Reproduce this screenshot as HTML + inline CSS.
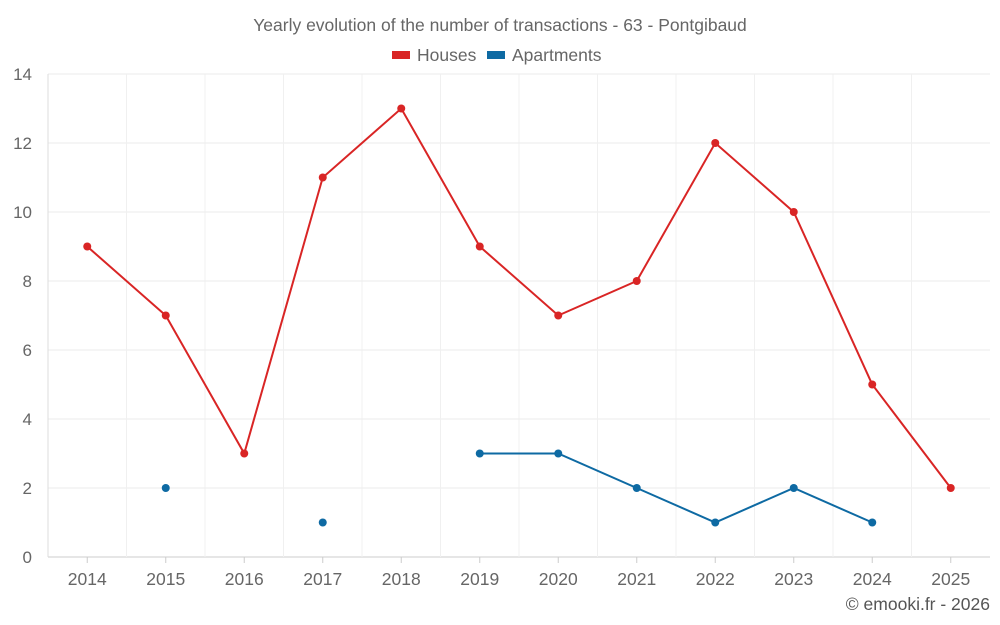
<!DOCTYPE html>
<html><head><meta charset="utf-8">
<style>
html,body{margin:0;padding:0;background:#fff;}
svg{display:block;font-family:"Liberation Sans",sans-serif;}
</style></head>
<body>
<svg id="chart" width="1000" height="625" viewBox="0 0 1000 625">
<text x="500" y="31" text-anchor="middle" font-size="17.5" fill="#666">Yearly evolution of the number of transactions - 63 - Pontgibaud</text>
<g>
<g><rect x="392" y="51" width="18" height="8" fill="#d92525"/><text x="417" y="61" font-size="17.5" fill="#666">Houses</text></g>
<g><rect x="487" y="51" width="18" height="8" fill="#0e6aa3"/><text x="512" y="61" font-size="17.5" fill="#666">Apartments</text></g>
</g>
<g id="grid"></g>
<g id="axes"></g>
<g id="series"></g>
<text x="990" y="610" text-anchor="end" font-size="17.5" fill="#555">© emooki.fr - 2026</text>
</svg>
<script>
const categories = ["2014","2015","2016","2017","2018","2019","2020","2021","2022","2023","2024","2025"];
const houses = [9,7,3,11,13,9,7,8,12,10,5,2];
const apartments = [null,2,null,1,null,3,3,2,1,2,1,null];
const yTicks = [0,2,4,6,8,10,12,14];

const NS="http://www.w3.org/2000/svg";
const L=48,R=990,T=74,B=557,yMax=14;
const band=(R-L)/categories.length;
const xs=i=>L+band*(i+0.5);
const ys=v=>B-(v/yMax)*(B-T);
function mk(tag,attrs,parent){const e=document.createElementNS(NS,tag);for(const k in attrs)e.setAttribute(k,attrs[k]);parent.appendChild(e);return e;}
const grid=document.getElementById('grid'),axes=document.getElementById('axes'),series=document.getElementById('series');

yTicks.forEach(v=>{
  const l=mk('line',{x1:L,x2:R,y1:ys(v),y2:ys(v),stroke:v===0?'#ccc':'#ebebeb','stroke-width':1},grid);
  
  
  const t=mk('text',{x:32,y:ys(v)+6,'text-anchor':'end','font-size':17,fill:'#666'},axes);
  t.textContent=v;
  
  
});
categories.forEach((c,i)=>{
  const g=mk('line',{x1:L+band*i,x2:L+band*i,y1:T,y2:B,stroke:'#f0f0f0','stroke-width':1},grid);
  
  
  const tk=mk('line',{x1:xs(i),x2:xs(i),y1:B,y2:B+6,stroke:'#ccc'},axes);
  
  
  const t=mk('text',{x:xs(i),y:585,'text-anchor':'middle','font-size':17.5,fill:'#666'},axes);
  t.textContent=c;
  
  
});
const ax=mk('line',{x1:L,x2:L,y1:T,y2:B,stroke:'#ddd'},axes);



function draw(data,color,name){
  let seg=[];
  const segs=[];
  data.forEach((v,i)=>{if(v==null){if(seg.length)segs.push(seg);seg=[];}else seg.push([xs(i),ys(v)]);});
  if(seg.length)segs.push(seg);
  segs.forEach(s=>{
    if(s.length>1){
      const p=mk('polyline',{points:s.map(q=>q.join(',')).join(' '),fill:'none',stroke:color,'stroke-width':2},series);
      
      
    }
  });
  data.forEach((v,i)=>{
    if(v==null)return;
    const c=mk('circle',{cx:xs(i),cy:ys(v),r:4,fill:color},series);
    
    
  });
}
draw(houses,'#d92525','houses');
draw(apartments,'#0e6aa3','apartments');
</script>
</body></html>
